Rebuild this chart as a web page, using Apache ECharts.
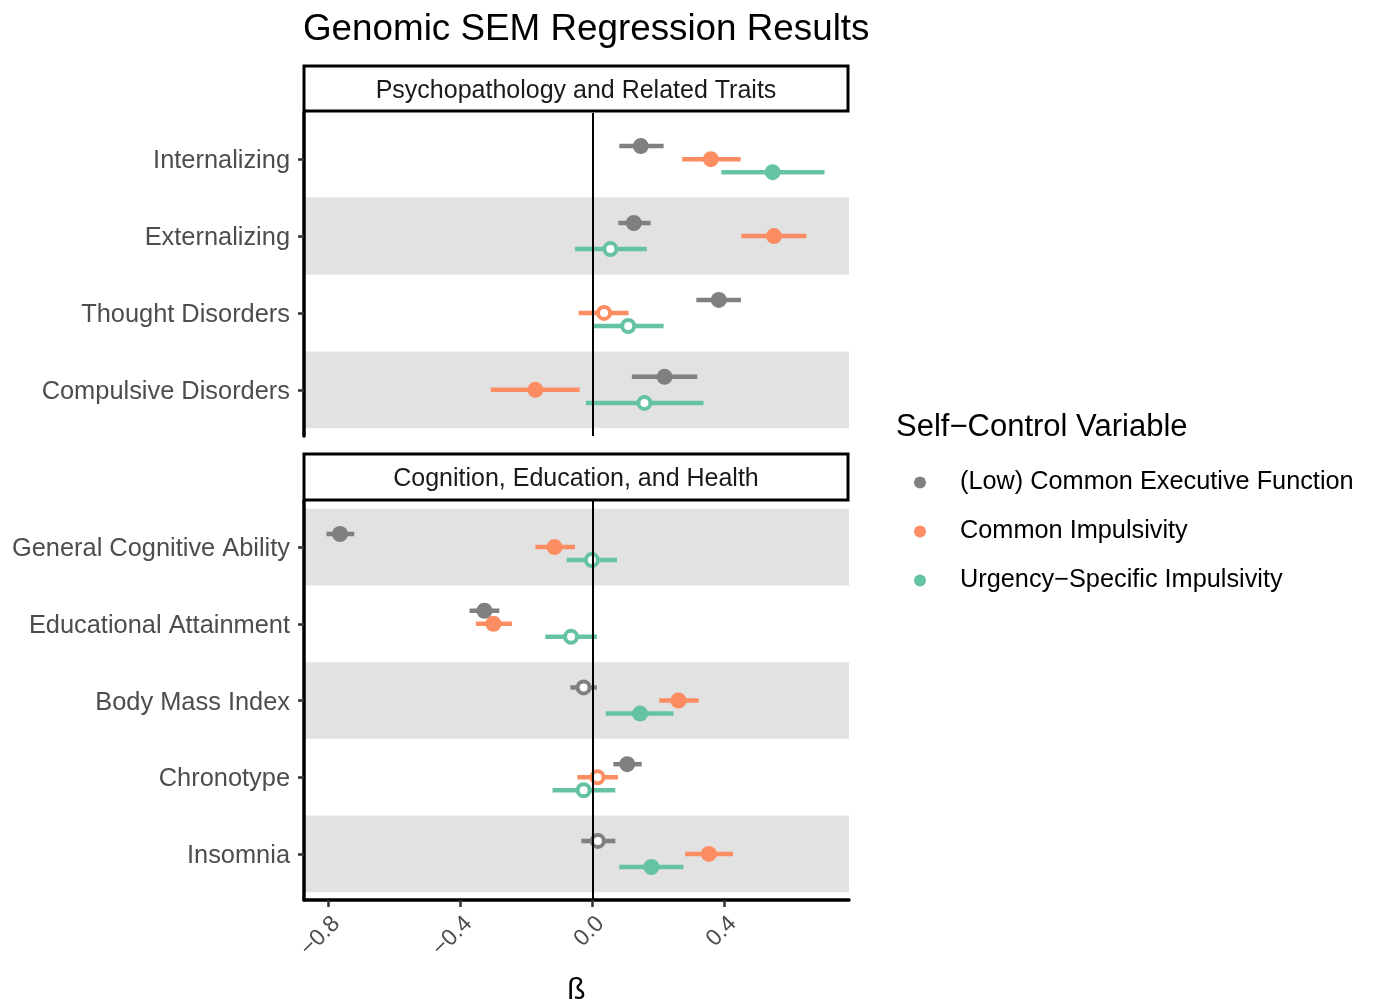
<!DOCTYPE html>
<html>
<head>
<meta charset="utf-8">
<script src="https://cdn.jsdelivr.net/npm/echarts@6/dist/echarts.min.js"></script>
<style>
  html, body { margin: 0; padding: 0; background: #fff; }
  #chart { width: 1373px; height: 1002px; }
</style>
</head>
<body>
<div id="chart"></div>
<script>
// categories, top to bottom in each facet
const traitsPsych = ['Internalizing', 'Externalizing', 'Thought Disorders', 'Compulsive Disorders']
const traitsCog = ['General Cognitive Ability', 'Educational Attainment', 'Body Mass Index', 'Chronotype', 'Insomnia']
const facetTitles = ['Psychopathology and Related Traits', 'Cognition, Education, and Health']
const variableNames = ['(Low) Common Executive Function', 'Common Impulsivity', 'Urgency\u2212Specific Impulsivity']
const xTicks = [-0.8, -0.4, 0, 0.4]

// estimates and 95% CI, order = traitsPsych then traitsCog
const cefEst = [0.146, 0.125, 0.382, 0.218, -0.764, -0.327, -0.027, 0.105, 0.016]
const cefLo = [0.081, 0.078, 0.314, 0.119, -0.805, -0.372, -0.067, 0.063, -0.034]
const cefHi = [0.215, 0.176, 0.449, 0.317, -0.721, -0.282, 0.013, 0.149, 0.069]
const cefSig = [1, 1, 1, 1, 1, 1, 0, 1, 0]

const ciEst = [0.358, 0.549, 0.035, -0.173, -0.115, -0.300, 0.260, 0.015, 0.352]
const ciLo = [0.271, 0.450, -0.042, -0.308, -0.173, -0.353, 0.202, -0.046, 0.280]
const ciHi = [0.448, 0.647, 0.109, -0.039, -0.053, -0.244, 0.321, 0.077, 0.425]
const ciSig = [1, 1, 0, 1, 1, 1, 1, 0, 1]

const usiEst = [0.545, 0.054, 0.108, 0.157, -0.002, -0.065, 0.144, -0.027, 0.178]
const usiLo = [0.390, -0.053, 0.000, -0.020, -0.078, -0.143, 0.040, -0.121, 0.081]
const usiHi = [0.702, 0.164, 0.215, 0.336, 0.074, 0.013, 0.245, 0.069, 0.275]
const usiSig = [1, 0, 0, 0, 0, 0, 1, 0, 1]

const FONT = '"Liberation Sans", Arial, sans-serif'
const colors = ['#808080', '#FC8D62', '#66C2A5']
const dodge = [-0.17, 0, 0.17]
const vars = [
  { est: cefEst, lo: cefLo, hi: cefHi, sig: cefSig },
  { est: ciEst, lo: ciLo, hi: ciHi, sig: ciSig },
  { est: usiEst, lo: usiLo, hi: usiHi, sig: usiSig },
]
const facets = [
  { cats: traitsPsych, offset: 0, bands: [1, 3] },
  { cats: traitsCog, offset: traitsPsych.length, bands: [0, 2, 4] },
]

const chart = echarts.init(document.getElementById('chart'))

const grids = [
  { left: 304, top: 113, width: 545, height: 323, outerBoundsMode: 'none', containLabel: false },
  { left: 304, top: 501, width: 545, height: 399, outerBoundsMode: 'none', containLabel: false },
]

const xAxes = facets.map((f, i) => ({
  type: 'value',
  gridIndex: i,
  min: -0.873,
  max: 0.776,
  z: 10,
  splitLine: { show: false },
  axisLine: { show: i === 1, onZero: false, lineStyle: { color: '#000', width: 3.5 } },
  axisTick: { show: i === 1, customValues: xTicks, length: 7, lineStyle: { color: '#333', width: 2.5 } },
  axisLabel: {
    show: i === 1,
    customValues: xTicks,
    rotate: 45,
    margin: 12,
    verticalAlign: 'top',
    fontSize: 23,
    fontFamily: FONT,
    color: '#4d4d4d',
    formatter: (v) => v.toFixed(1).replace('-', '\u2212'),
  },
  name: i === 1 ? '\u00df' : '',
  nameLocation: 'middle',
  nameGap: 76,
  nameTextStyle: { fontSize: 30, fontFamily: FONT, color: '#000' },
}))

const yAxes = facets.map((f, i) => ({
  type: 'value',
  gridIndex: i,
  inverse: true,
  min: -0.6,
  max: f.cats.length - 0.4,
  z: 10,
  splitLine: { show: false },
  axisLine: { show: true, onZero: false, lineStyle: { color: '#000', width: 3.5 } },
  axisTick: { show: true, customValues: f.cats.map((c, k) => k), length: 6, lineStyle: { color: '#333', width: 2.5 } },
  axisLabel: {
    customValues: f.cats.map((c, k) => k),
    formatter: (v) => '{t|' + f.cats[Math.round(v)] + '}',
    margin: 14,
    rich: {
      t: { fontSize: 25.4, fontFamily: FONT, color: '#4d4d4d', padding: [4, 0, 0, 0] },
    },
  },
}))

const series = []
facets.forEach((f, gi) => {
  // shaded rows
  series.push({
    type: 'scatter',
    xAxisIndex: gi,
    yAxisIndex: gi,
    data: [],
    z: 1,
    silent: true,
    markArea: {
      silent: true,
      itemStyle: { color: '#e2e2e2' },
      data: f.bands.map((b) => [{ yAxis: b - 0.5 }, { yAxis: b + 0.5 }]),
    },
  })
  // zero reference line
  series.push({
    type: 'scatter',
    xAxisIndex: gi,
    yAxisIndex: gi,
    data: [],
    z: 2,
    silent: true,
    markLine: {
      silent: true,
      symbol: ['none', 'none'],
      label: { show: false },
      lineStyle: { color: '#000', width: 2, type: 'solid' },
      data: [{ xAxis: 0 }],
    },
  })
  vars.forEach((v, vi) => {
    const idx = f.cats.map((c, k) => f.offset + k)
    // error bars
    series.push({
      type: 'custom',
      name: 'bar' + vi,
      xAxisIndex: gi,
      yAxisIndex: gi,
      z: 3,
      encode: { x: [0, 1], y: 2 },
      data: idx.map((j, k) => [v.lo[j], v.hi[j], k + dodge[vi]]),
      renderItem: (params, api) => {
        const a = api.coord([api.value(0), api.value(2)])
        const b = api.coord([api.value(1), api.value(2)])
        return {
          type: 'line',
          shape: { x1: a[0], y1: a[1], x2: b[0], y2: b[1] },
          style: { stroke: colors[vi], lineWidth: 4.5 },
        }
      },
    })
    // point estimates (hollow when CI crosses zero)
    series.push({
      type: 'scatter',
      name: variableNames[vi],
      xAxisIndex: gi,
      yAxisIndex: gi,
      z: 4,
      symbol: 'circle',
      itemStyle: { color: colors[vi], opacity: 1 },
      data: idx.map((j, k) => {
        const hollow = !v.sig[j]
        return {
          value: [v.est[j], k + dodge[vi]],
          symbolSize: hollow ? 12 : 16,
          itemStyle: hollow
            ? { color: '#fff', borderColor: colors[vi], borderWidth: 4 }
            : { color: colors[vi] },
        }
      }),
    })
  })
})

const graphics = []
const strips = [
  { y: 66, h: 45 },
  { y: 454, h: 46 },
]
strips.forEach((s, i) => {
  graphics.push({
    type: 'rect',
    shape: { x: 304, y: s.y, width: 544, height: s.h },
    style: { fill: '#fff', stroke: '#000', lineWidth: 3 },
    z: 10,
  })
  graphics.push({
    type: 'text',
    x: 576,
    y: s.y + s.h / 2 + 2.5,
    style: {
      text: facetTitles[i],
      fontSize: 25,
      fontFamily: FONT,
      fill: '#1a1a1a',
      align: 'center',
      verticalAlign: 'middle',
    },
    z: 11,
  })
})
graphics.push({
  type: 'text',
  x: 896,
  y: 427,
  style: {
    text: 'Self\u2212Control Variable',
    fontSize: 31,
    fontFamily: FONT,
    fill: '#000',
    verticalAlign: 'middle',
  },
})

chart.setOption({
  animation: false,
  title: {
    text: 'Genomic SEM Regression Results',
    left: 298,
    top: 6,
    textStyle: { fontSize: 36.8, fontWeight: 'normal', fontFamily: FONT, color: '#000' },
  },
  legend: {
    data: variableNames,
    orient: 'vertical',
    left: 909,
    top: 463,
    itemWidth: 70,
    itemHeight: 12,
    itemGap: 20,
    icon: 'circle',
    selectedMode: false,
    textStyle: { fontSize: 25.3, fontFamily: FONT, color: '#000', lineHeight: 29 },
  },
  grid: grids,
  xAxis: xAxes,
  yAxis: yAxes,
  series: series,
  graphic: graphics,
})
</script>
</body>
</html>
